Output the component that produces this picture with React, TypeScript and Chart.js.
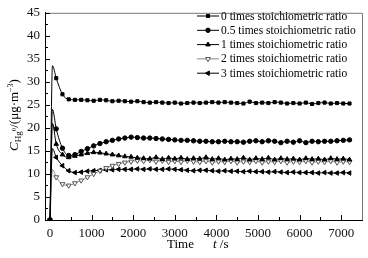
import React, { useEffect, useRef } from 'react';
import { Chart, registerables } from 'chart.js';
import { drawPoint } from 'chart.js/helpers';

Chart.register(...registerables);

// time (s)
const times = [
  0, 60, 150, 300, 450, 600, 750, 900, 1050, 1200, 1350, 1500,
  1650, 1800, 1950, 2100, 2250, 2400, 2550, 2700, 2850, 3000,
  3150, 3300, 3450, 3600, 3750, 3900, 4050, 4200, 4350, 4500,
  4650, 4800, 4950, 5100, 5250, 5400, 5550, 5700, 5850, 6000,
  6150, 6300, 6450, 6600, 6750, 6900, 7050, 7200,
];

const ratio0 = [
  0, 33.5, 30.8, 27.3, 26.2, 26.1, 26.1, 26.0, 25.9, 26.1, 26.0, 25.8,
  25.9, 25.8, 25.7, 25.8, 25.6, 25.5, 25.6, 25.5, 25.4, 25.5,
  25.3, 25.4, 25.5, 25.4, 25.5, 25.6, 25.5, 25.6, 25.5, 25.4,
  25.3, 25.7, 25.4, 25.5, 25.4, 25.6, 25.5, 25.3, 25.4, 25.3,
  25.5, 25.2, 25.4, 25.5, 25.3, 25.4, 25.3, 25.3,
];
const ratio05 = [
  0, 24.0, 19.8, 15.6, 14.0, 14.2, 14.9, 15.5, 16.1, 16.6, 17.0, 17.3,
  17.6, 17.8, 18.0, 17.9, 17.8, 17.8, 17.7, 17.6, 17.5, 17.4,
  17.3, 17.3, 17.2, 17.1, 17.1, 17.0, 17.0, 17.1, 17.0, 17.0,
  16.9, 17.1, 17.2, 17.0, 17.2, 17.1, 16.8, 17.1, 16.9, 17.2,
  16.8, 17.1, 17.0, 17.1, 17.1, 17.2, 17.3, 17.4,
];
const ratio1 = [
  0, 21.0, 16.5, 14.2, 13.6, 13.9, 14.2, 14.5, 14.7, 14.6, 14.4, 14.2,
  14.0, 13.8, 13.7, 13.5, 13.4, 13.3, 13.6, 13.2, 13.5, 13.3,
  13.5, 13.2, 13.4, 13.3, 13.6, 13.2, 13.4, 13.1, 13.3, 13.2,
  13.5, 13.1, 13.4, 13.2, 13.5, 13.1, 13.4, 13.2, 13.3, 13.1,
  13.4, 13.2, 13.3, 13.1, 13.4, 13.2, 13.3, 13.1,
];
const ratio2 = [
  0, 11.0, 9.3, 7.8, 7.5, 8.0, 8.6, 9.3, 10.0, 10.7, 11.3, 11.8,
  12.2, 12.5, 12.7, 12.9, 12.8, 13.0, 12.7, 12.9, 12.6, 12.8,
  12.6, 12.9, 12.7, 12.6, 12.8, 12.5, 12.7, 12.6, 12.8, 12.5,
  12.7, 12.6, 12.8, 12.5, 12.7, 12.6, 12.8, 12.5, 12.7, 12.6,
  12.8, 12.5, 12.7, 12.6, 12.8, 12.5, 12.7, 12.6,
];
const ratio3 = [
  0, 15.5, 13.6, 11.8, 10.7, 10.3, 10.4, 10.6, 10.7, 10.8, 10.9, 10.9,
  11.0, 11.0, 11.0, 11.1, 11.0, 11.1, 11.0, 11.0, 11.1, 11.0,
  10.9, 10.8, 10.7, 10.8, 10.8, 10.7, 10.6, 10.7, 10.6, 10.6,
  10.5, 10.6, 10.5, 10.5, 10.4, 10.5, 10.4, 10.3, 10.4, 10.3,
  10.3, 10.3, 10.2, 10.3, 10.2, 10.2, 10.3, 10.2,
];

const seriesNames = [
  '0 times stoichiometric ratio',
  '0.5 times stoichiometric ratio',
  '1 times stoichiometric ratio',
  '2 times stoichiometric ratio',
  '3 times stoichiometric ratio',
];

const xTickValues = [0, 1000, 2000, 3000, 4000, 5000, 6000, 7000];
const xMinorValues = [500, 1500, 2500, 3500, 4500, 5500, 6500, 7500];
const yTickValues = [0, 5, 10, 15, 20, 25, 30, 35, 40, 45];
const yMinorValues = [2.5, 7.5, 12.5, 17.5, 22.5, 27.5, 32.5, 37.5, 42.5];

const SERIF = '"Liberation Serif", "DejaVu Serif", serif';

const styles = [
  { line: '#000', border: '#000', fill: '#000', pointStyle: 'rect', radius: 2.2, rotation: 0 },
  { line: '#000', border: '#000', fill: '#000', pointStyle: 'circle', radius: 2.2, rotation: 0 },
  { line: '#000', border: '#000', fill: '#000', pointStyle: 'triangle', radius: 2.6, rotation: 0 },
  { line: '#8a8a8a', border: '#555', fill: '#fff', pointStyle: 'triangle', radius: 2.8, rotation: 180 },
  { line: '#000', border: '#000', fill: '#000', pointStyle: 'triangle', radius: 2.6, rotation: -90 },
];

const seriesValues = [ratio0, ratio05, ratio1, ratio2, ratio3];

const decorPlugin = {
  id: 'decor',
  afterDraw(chart: any) {
    const ctx = chart.ctx as CanvasRenderingContext2D;
    const { left, right, top, bottom } = chart.chartArea;
    const xs = chart.scales.x;
    const ys = chart.scales.y;
    ctx.save();
    // frame top/right
    ctx.strokeStyle = '#777';
    ctx.lineWidth = 1;
    ctx.beginPath();
    ctx.moveTo(left, top + 0.5);
    ctx.lineTo(right + 0.5, top + 0.5);
    ctx.lineTo(right + 0.5, bottom);
    ctx.stroke();
    // inward ticks
    ctx.strokeStyle = '#000';
    ctx.beginPath();
    xTickValues.forEach((v) => {
      const px = Math.round(xs.getPixelForValue(v)) + 0.5;
      ctx.moveTo(px, bottom);
      ctx.lineTo(px, bottom - 5);
    });
    xMinorValues.forEach((v) => {
      const px = Math.round(xs.getPixelForValue(v)) + 0.5;
      if (px < right) {
        ctx.moveTo(px, bottom);
        ctx.lineTo(px, bottom - 3);
      }
    });
    yTickValues.forEach((v) => {
      const py = Math.round(ys.getPixelForValue(v)) + 0.5;
      ctx.moveTo(left, py);
      ctx.lineTo(left + 5, py);
    });
    yMinorValues.forEach((v) => {
      const py = Math.round(ys.getPixelForValue(v)) + 0.5;
      ctx.moveTo(left, py);
      ctx.lineTo(left + 3, py);
    });
    ctx.stroke();

    // legend
    const lx1 = 197;
    const lx2 = 219;
    const ly0 = 16;
    const lstep = 14.3;
    ctx.font = `11.5px ${SERIF}`;
    ctx.textBaseline = 'middle';
    ctx.textAlign = 'left';
    seriesNames.forEach((name, i) => {
      const st = styles[i];
      const y = ly0 + i * lstep;
      ctx.strokeStyle = st.line;
      ctx.lineWidth = 1;
      ctx.beginPath();
      ctx.moveTo(lx1, y);
      ctx.lineTo(lx2, y);
      ctx.stroke();
      ctx.fillStyle = st.fill;
      ctx.strokeStyle = st.border;
      drawPoint(ctx, { pointStyle: st.pointStyle, radius: st.radius, rotation: st.rotation, borderWidth: 1 } as any, (lx1 + lx2) / 2, y);
      ctx.fillStyle = '#000';
      ctx.fillText(name, lx2 + 2, y + 0.5);
    });

    // x title
    ctx.fillStyle = '#000';
    ctx.textBaseline = 'alphabetic';
    ctx.font = `13px ${SERIF}`;
    ctx.fillText('Time', 167, 248);
    ctx.font = `italic 13px ${SERIF}`;
    ctx.fillText('t', 213, 248);
    const tw = ctx.measureText('t').width;
    ctx.font = `13px ${SERIF}`;
    ctx.fillText(' /s', 213 + tw, 248);

    // y title (rotated)
    ctx.translate(18, 115);
    ctx.rotate(-Math.PI / 2);
    const parts: { t: string; f: string; dy: number }[] = [
      { t: 'C', f: `italic 13px ${SERIF}`, dy: 0 },
      { t: 'Hg', f: `9px ${SERIF}`, dy: 3 },
      { t: '0', f: `7px ${SERIF}`, dy: -2 },
      { t: '/(μg·m', f: `13px ${SERIF}`, dy: 0 },
      { t: '−3', f: `8px ${SERIF}`, dy: -5 },
      { t: ')', f: `13px ${SERIF}`, dy: 0 },
    ];
    let total = 0;
    parts.forEach((p) => {
      ctx.font = p.f;
      total += ctx.measureText(p.t).width;
    });
    let cx = -total / 2;
    parts.forEach((p) => {
      ctx.font = p.f;
      ctx.fillText(p.t, cx, p.dy);
      cx += ctx.measureText(p.t).width;
    });
    ctx.restore();
  },
};

export default function App() {
  const ref = useRef<HTMLCanvasElement | null>(null);
  useEffect(() => {
    document.body.style.margin = '0';
    const canvas = ref.current!;
    const datasets = seriesValues.map((vals, i) => {
      const st = styles[i];
      return {
        label: seriesNames[i],
        data: times.map((t, j) => ({ x: t, y: vals[j] })),
        borderColor: st.line,
        borderWidth: 1,
        pointStyle: st.pointStyle,
        pointRotation: st.rotation,
        pointBackgroundColor: st.fill,
        pointBorderColor: st.border,
        pointBorderWidth: 1,
        pointRadius: times.map((t) => (t === 60 ? 0 : st.radius)),
        tension: 0.4,
        cubicInterpolationMode: 'monotone',
        fill: false,
      };
    });
    const chart = new Chart(canvas, {
      type: 'line',
      data: { datasets: datasets as any },
      options: {
        responsive: false,
        animation: false,
        layout: { padding: { top: 10, right: 6, left: 0, bottom: 0 } },
        plugins: { legend: { display: false }, tooltip: { enabled: false } },
        scales: {
          x: {
            type: 'linear',
            min: -120,
            max: 7500,
            grid: { display: false, drawTicks: false },
            border: { display: true, color: '#000', width: 1 },
            ticks: {
              color: '#111',
              font: { family: SERIF, size: 13 },
              padding: 6,
              maxRotation: 0,
              callback: (v: any) => String(v),
            },
            afterBuildTicks: (s: any) => {
              s.ticks = xTickValues.map((v) => ({ value: v }));
            },
            afterFit: (s: any) => {
              s.height = 38;
            },
          },
          y: {
            type: 'linear',
            min: 0,
            max: 45,
            grid: { display: false, drawTicks: false },
            border: { display: true, color: '#000', width: 1 },
            ticks: {
              color: '#111',
              font: { family: SERIF, size: 13 },
              padding: 5,
              callback: (v: any) => String(v),
            },
            afterBuildTicks: (s: any) => {
              s.ticks = yTickValues.map((v) => ({ value: v }));
            },
            afterFit: (s: any) => {
              s.width = 45;
            },
          },
        },
      },
      plugins: [decorPlugin],
    });
    return () => chart.destroy();
  }, []);
  return (
    <div style={{ width: 368, height: 258, background: '#fff' }}>
      <canvas ref={ref} width={368} height={258} />
    </div>
  );
}
